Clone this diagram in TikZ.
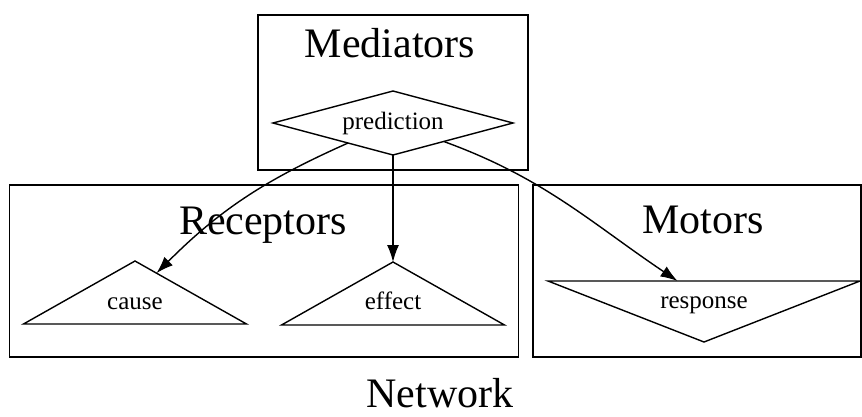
\documentclass[tikz,border=0pt]{standalone}
\usepackage{fontspec}
\setmainfont{Liberation Serif}
\usepackage{tikz}
\usetikzlibrary{shapes.geometric,arrows.meta}
\tikzstyle{e}=[line width=1.4pt,arrows={-Latex[length=17pt,width=12pt]}]
\tikzstyle{cluster}=[rectangle,draw,line width=1.4pt,inner sep=0pt,outer sep=0pt]
\tikzstyle{cluster label}=[inner sep=0pt,anchor=base,font=\fontsize{42}{48}\selectfont]
\tikzstyle{n}=[draw,line width=1.4pt,inner sep=0pt,outer sep=0pt,font=\fontsize{25}{30}\selectfont]
\tikzstyle{n text}=[inner sep=0pt,anchor=base,font=\fontsize{25}{30}\selectfont]
\tikzstyle{n diamond}=[n,diamond,aspect=3.75,minimum width=240pt,minimum height=64pt]
\tikzstyle{n triangle}=[n,isosceles triangle,isosceles triangle stretches,shape border rotate=90,minimum width=223pt,minimum height=63pt]
\tikzstyle{n inverted}=[n triangle,shape border rotate=-90,minimum width=312pt,minimum height=61pt]

\begin{document}
\begin{tikzpicture}[x=1pt,y=1pt]
    \useasboundingbox (0,0) rectangle (862,-416);

    % clusters
    \node[cluster,minimum width=270pt,minimum height=155pt] (mediators) at (393,-92.5) {};
    \node[cluster,minimum width=509pt,minimum height=172pt] (receptors) at (264,-271) {};
    \node[cluster,minimum width=328pt,minimum height=172pt] (motors) at (697,-271) {};

    \node[cluster label] (mediators_label) at (390,-57)  {Mediators};
    \node[cluster label] (receptors_label) at (263,-234) {Receptors};
    \node[cluster label] (motors_label)    at (703,-233) {Motors};
    \node[cluster label] (network_label)   at (440,-407) {Network};

    % nodes
    \node[n diamond]               (prediction) at (393,-123) {prediction};
    \node[n triangle,anchor=apex]  (cause)      at (135,-261) {};
    \node[n triangle,anchor=apex]  (effect)     at (393,-262) {};
    \node[n inverted,anchor=apex]  (response)   at (704,-342) {};

    \node[n text] (cause_text)    at (135,-309) {cause};
    \node[n text] (effect_text)   at (393,-309) {effect};
    \node[n text] (response_text) at (704,-308) {response};

    \draw[e]
      (prediction) edge[out=204,in=45] (cause.45)
      (prediction) edge (effect)
      (prediction) edge[out=-20,in=146] (response.132);

\end{tikzpicture}
\end{document}
